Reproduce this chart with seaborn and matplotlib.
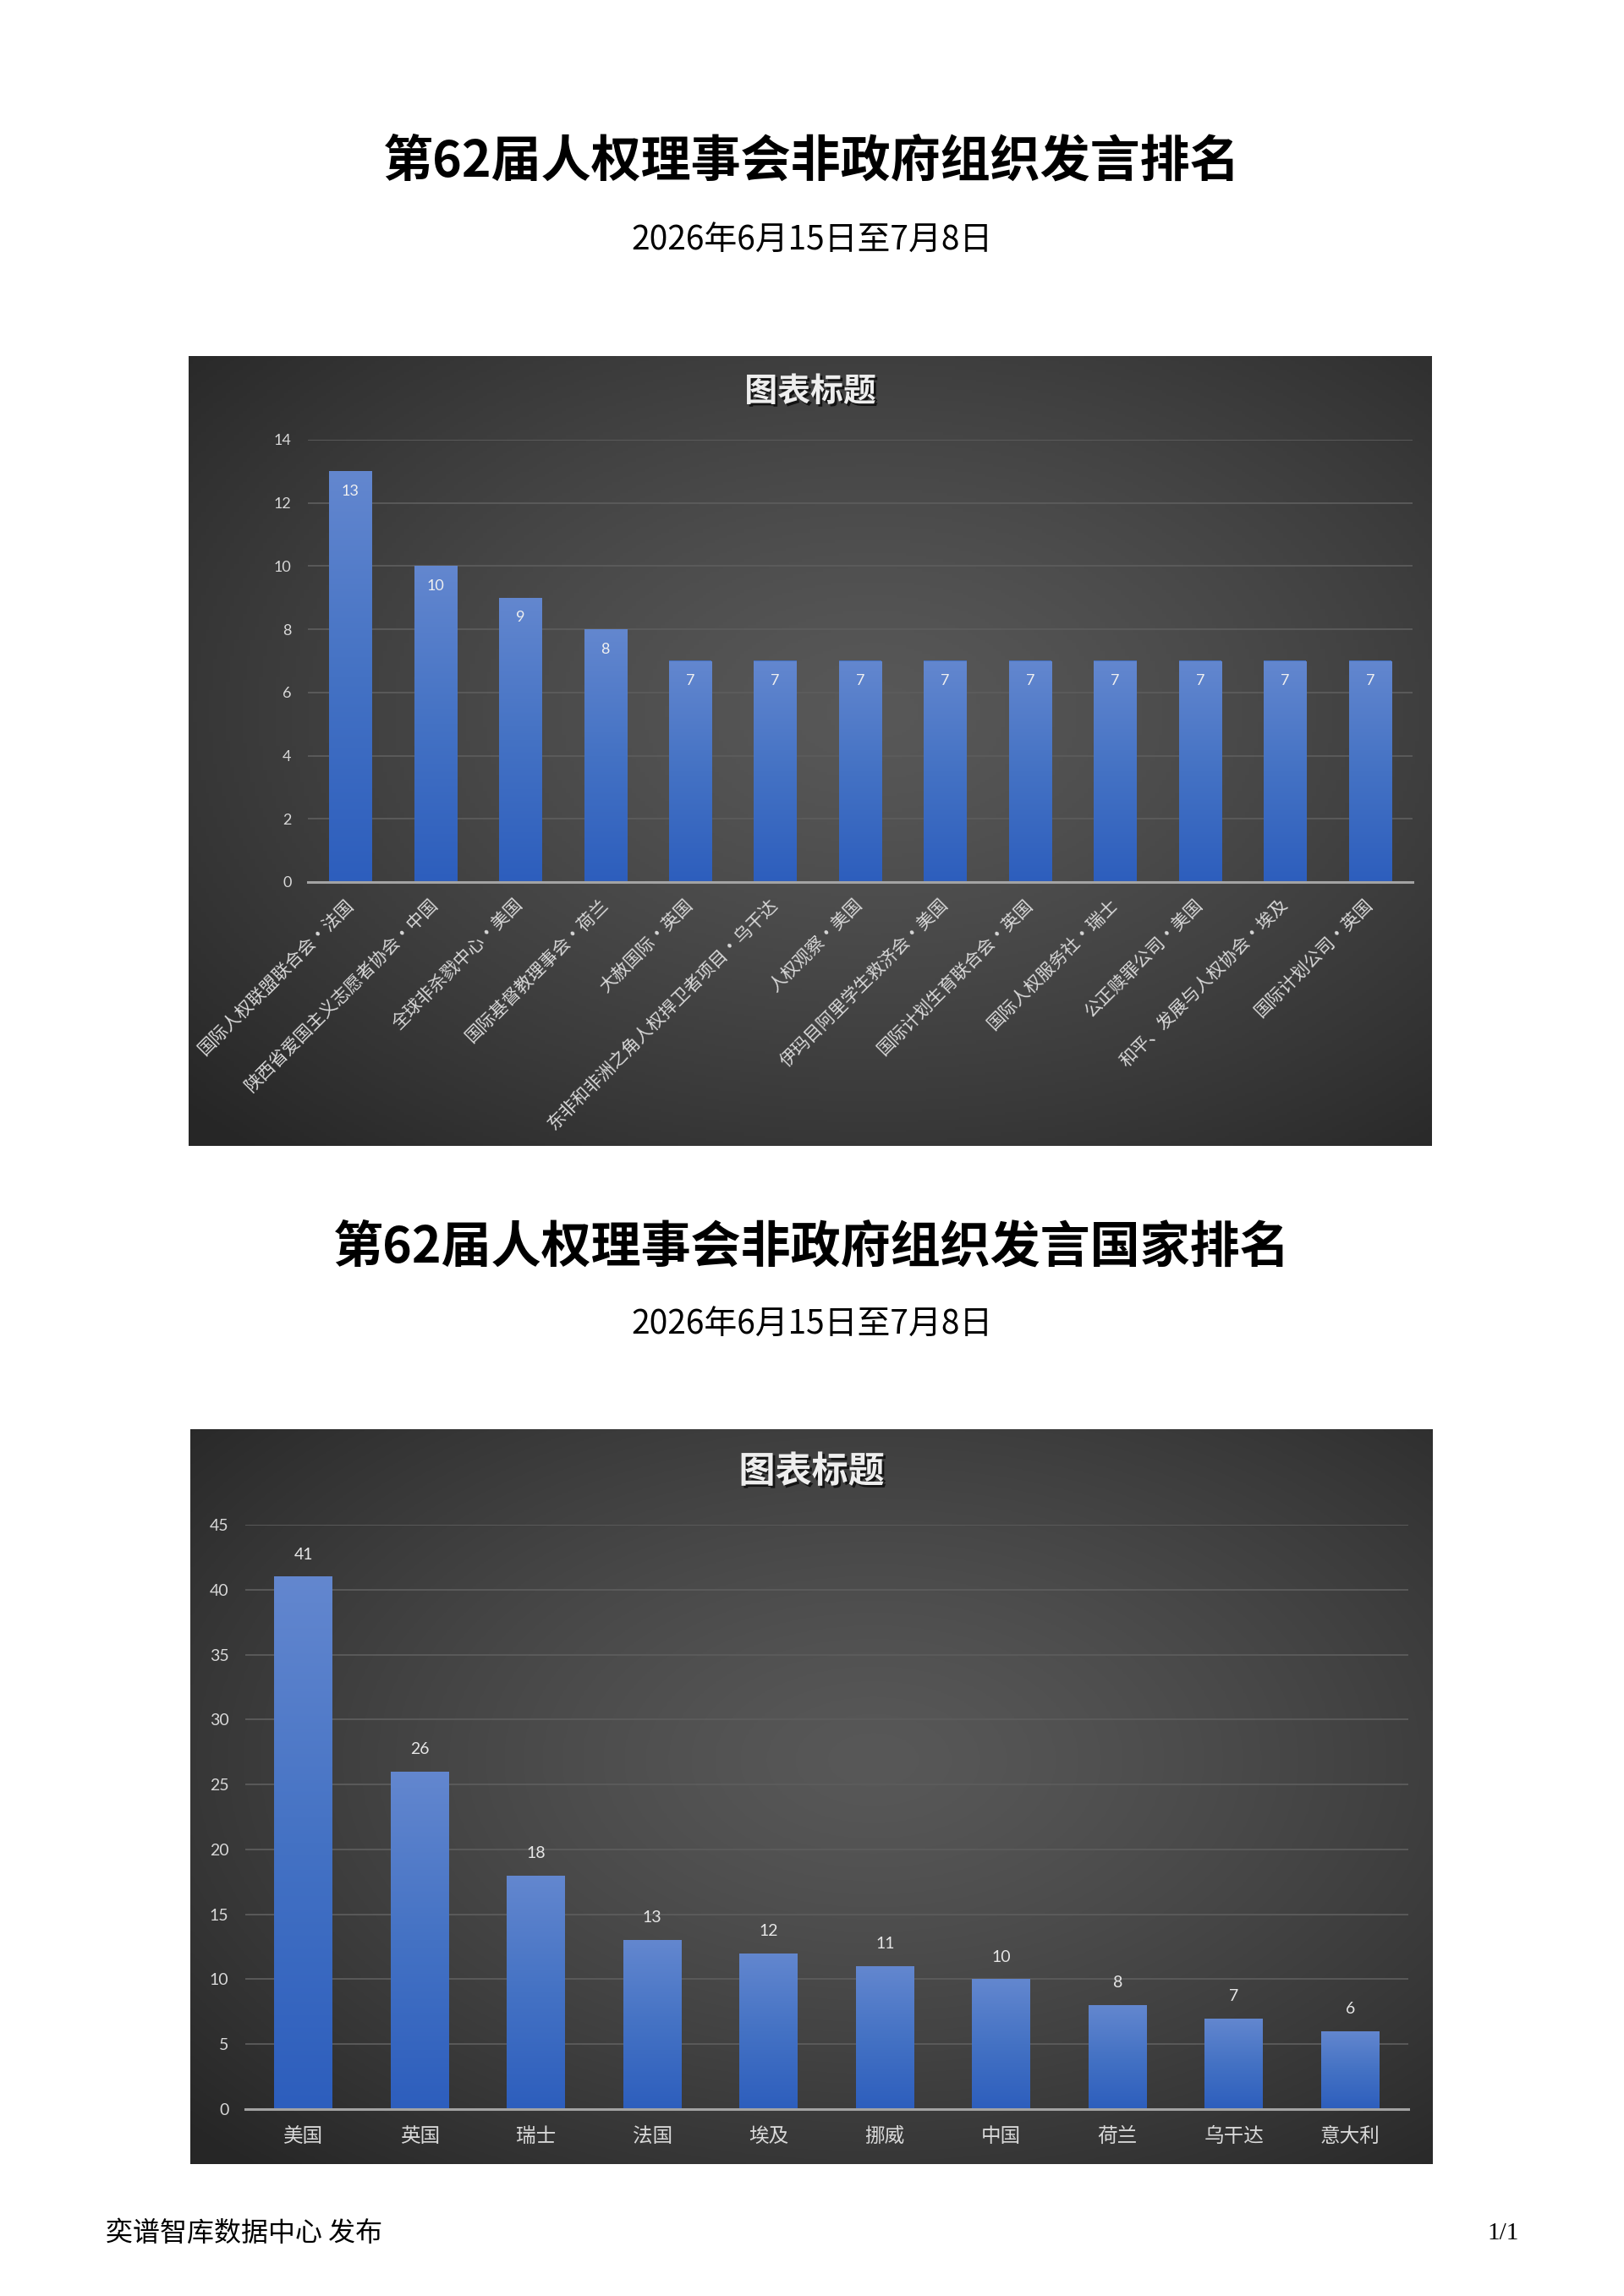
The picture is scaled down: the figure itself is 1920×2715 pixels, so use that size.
import numpy as np
import pandas as pd
import matplotlib
matplotlib.use("Agg")
import matplotlib.pyplot as plt
import matplotlib.patheffects as pe
from matplotlib.colors import LinearSegmentedColormap
import seaborn as sns

sns.set_style("dark")
plt.rcParams['font.family'] = ['Noto Sans CJK SC', 'DejaVu Sans']

# ---- data ----
page_title1 = "第62届人权理事会非政府组织发言排名"
page_title2 = "第62届人权理事会非政府组织发言国家排名"
date_range = "2026年6月15日至7月8日"
chart_title = "图表标题"

ngo_names = [
    "国际人权联盟联合会·法国",
    "陕西省爱国主义志愿者协会·中国",
    "全球非杀戮中心·美国",
    "国际基督教理事会·荷兰",
    "大赦国际·英国",
    "东非和非洲之角人权捍卫者项目·乌干达",
    "人权观察·美国",
    "伊玛目阿里学生救济会·美国",
    "国际计划生育联合会·英国",
    "国际人权服务社·瑞士",
    "公正赎罪公司·美国",
    "和平、发展与人权协会·埃及",
    "国际计划公司·英国",
]
ngo_counts = [13, 10, 9, 8, 7, 7, 7, 7, 7, 7, 7, 7, 7]
ngo_ticks = [0, 2, 4, 6, 8, 10, 12, 14]

countries = ["美国", "英国", "瑞士", "法国", "埃及", "挪威", "中国", "荷兰", "乌干达", "意大利"]
country_counts = [41, 26, 18, 13, 12, 11, 10, 8, 7, 6]
country_ticks = [0, 5, 10, 15, 20, 25, 30, 35, 40, 45]

W, H = 1920, 2715
fig = plt.figure(figsize=(W / 100, H / 100), dpi=100)
fig.patch.set_facecolor("white")


def box(x0, y0, x1, y1):
    # pixel box -> figure fraction rect
    return [x0 / W, 1 - y1 / H, (x1 - x0) / W, (y1 - y0) / H]


bar_cmap = LinearSegmentedColormap.from_list("bar", ["#6387cf", "#4472c4", "#2d5ebd"])


def dark_background(rect):
    bg = fig.add_axes(rect, zorder=0)
    yy, xx = np.mgrid[0:1:300j, 0:1:300j]
    r = np.sqrt(((xx - 0.55) / 0.75) ** 2 + ((yy - 0.45) / 0.75) ** 2)
    r = np.clip(r, 0, 1)
    val = 0.345 - (0.345 - 0.15) * r ** 1.3
    img = np.dstack([val, val, val])
    bg.imshow(img, extent=[0, 1, 0, 1], aspect="auto", origin="upper")
    bg.set_axis_off()
    return bg


def style_axes(ax, ymax, ticks, tick_size):
    ax.set_facecolor("none")
    ax.set_ylim(0, ymax)
    ax.set_yticks(ticks)
    ax.grid(axis="y", color="#5c5c5c", linewidth=1.3)
    ax.grid(axis="x", visible=False)
    for s in ["top", "right", "left"]:
        ax.spines[s].set_visible(False)
    ax.spines["bottom"].set_color("#a3a3a3")
    ax.spines["bottom"].set_linewidth(2.2)
    ax.spines["bottom"].set_zorder(5)
    ax.tick_params(axis="y", length=0, pad=14, colors="#d9d9d9", labelsize=tick_size)
    ax.tick_params(axis="x", length=0, colors="#d9d9d9")
    for lab in ax.get_yticklabels():
        lab.set_family(["Lato", "DejaVu Sans"])
    ax.set_xlabel("")
    ax.set_ylabel("")


def gradient_bars(ax):
    xlim, ylim = ax.get_xlim(), ax.get_ylim()
    grad = np.linspace(0, 1, 256).reshape(-1, 1)
    for p in ax.patches:
        x, w, h = p.get_x(), p.get_width(), p.get_height()
        p.set_path_effects([pe.SimplePatchShadow(offset=(0, -2), shadow_rgbFace="black", alpha=0.45), pe.Normal()])
        im = ax.imshow(grad, extent=[x, x + w, 0, h], origin="upper", aspect="auto",
                       cmap=bar_cmap, zorder=3)
        im.set_clip_path(p)
    ax.set_xlim(xlim)
    ax.set_ylim(ylim)


title_fx = [pe.withSimplePatchShadow(offset=(2, -2), shadow_rgbFace="black", alpha=0.7)]

# ---- page headings ----
fig.text(0.5, 1 - 192 / H, page_title1, ha="center", va="center", fontsize=42.5, color="black", weight="bold")
fig.text(0.5, 1 - 285 / H, date_range, ha="center", va="center", fontsize=28, color="black")
fig.text(0.5, 1 - 1476 / H, page_title2, ha="center", va="center", fontsize=42.5, color="black", weight="bold")
fig.text(0.5, 1 - 1567 / H, date_range, ha="center", va="center", fontsize=28, color="black")
fig.text(125 / W, 1 - 2641 / H, "奕谱智库数据中心 发布", ha="left", va="center", fontsize=23, color="black")
fig.text(1796 / W, 1 - 2641 / H, "1/1", ha="right", va="center", fontsize=21, color="black",
         family=["Liberation Serif", "DejaVu Serif"])

# ---- chart 1: NGOs ----
dark_background(box(223, 421, 1693, 1355))
fig.text((223 + 1693) / 2 / W, 1 - 463 / H, chart_title, ha="center", va="center", fontsize=28,
         weight="bold", color="#eeeeee", path_effects=title_fx, zorder=10)

ax1 = fig.add_axes(box(364, 520, 1670, 1043), zorder=2)
df1 = pd.DataFrame({"name": ngo_names, "count": ngo_counts})
sns.barplot(data=df1, x="name", y="count", ax=ax1, color="#4472c4", width=0.5, saturation=1,
            linewidth=0, zorder=2)
style_axes(ax1, 14, ngo_ticks, 13)
ax1.set_xticks(range(len(ngo_names)))
ax1.set_xticklabels(ngo_names, rotation=45, ha="right", va="center", rotation_mode="anchor", fontsize=15)
ax1.tick_params(axis="x", pad=17)
gradient_bars(ax1)
for i, v in enumerate(ngo_counts):
    ax1.annotate(str(v), (i, v), xytext=(0, -17), textcoords="offset points", ha="center", va="center",
                 fontsize=13, color="#f0f0f0", family=["Lato", "DejaVu Sans"], zorder=6)

# ---- chart 2: countries ----
dark_background(box(225, 1690, 1694, 2559))
fig.text((225 + 1694) / 2 / W, 1 - 1740 / H, chart_title, ha="center", va="center", fontsize=31,
         weight="bold", color="#eeeeee", path_effects=title_fx, zorder=10)

ax2 = fig.add_axes(box(290, 1803, 1665, 2494), zorder=2)
df2 = pd.DataFrame({"country": countries, "count": country_counts})
sns.barplot(data=df2, x="country", y="count", ax=ax2, color="#4472c4", width=0.5, saturation=1,
            linewidth=0, zorder=2)
style_axes(ax2, 45, country_ticks, 14)
ax2.tick_params(axis="x", pad=15, labelsize=17)
gradient_bars(ax2)
for i, v in enumerate(country_counts):
    ax2.annotate(str(v), (i, v), xytext=(0, 19), textcoords="offset points", ha="center", va="center",
                 fontsize=14, color="#e6e6e6", family=["Lato", "DejaVu Sans"], zorder=6)

fig.savefig("out.png", dpi=100, facecolor="white")
